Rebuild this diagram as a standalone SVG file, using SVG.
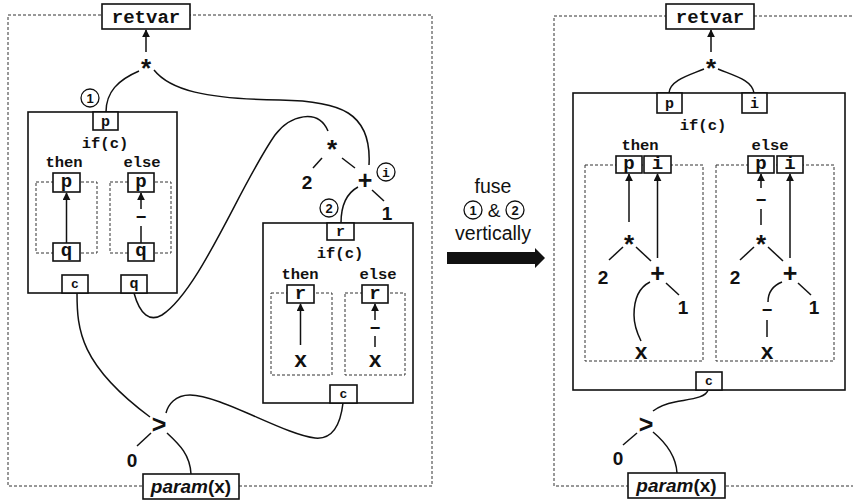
<svg xmlns="http://www.w3.org/2000/svg" width="853" height="500" viewBox="0 0 853 500">
<defs>
<marker id="ah" viewBox="0 0 10 10" refX="9" refY="5" markerWidth="8" markerHeight="8" markerUnits="userSpaceOnUse" orient="auto">
<path d="M0,0 L10,5 L0,10 Z" fill="#111"/>
</marker>
<style>
.dash{fill:none;stroke:#333;stroke-width:1;stroke-dasharray:3,2}
.box{fill:#fff;stroke:#111;stroke-width:1.6}
.cont{fill:none;stroke:#111;stroke-width:1.6}
.ln{fill:none;stroke:#111;stroke-width:1.5}
.ar{fill:none;stroke:#111;stroke-width:1.5;marker-end:url(#ah)}
.circ{fill:#fff;stroke:#111;stroke-width:1.3}
.mono{font-family:"Liberation Mono","DejaVu Sans Mono",monospace;font-weight:bold;fill:#111;text-anchor:middle}
.sans{font-family:"Liberation Sans",Arial,sans-serif;font-weight:bold;fill:#111;text-anchor:middle}
.plain{font-family:"Liberation Sans",Arial,sans-serif;fill:#111;text-anchor:middle}
.rv{font-size:19px}
.pt{font-size:15px}
.ps{font-size:13px}
.pb{font-size:19px}
.kw{font-size:15.5px}
.xx{font-size:22px}
.st{font-size:26px}
.op{font-size:25px}
.num{font-size:19px}
.cl{font-size:13px}
.mi{font-size:18px}
</style>
</defs>

<!-- LEFT DIAGRAM -->
<rect class="dash" x="8" y="15" width="424" height="471"/>

<g id="connectors-left">
<line class="ar" x1="146" y1="52" x2="146" y2="30"/>
<path class="ln" d="M139,71 C118,80 106,92 106,112"/>
<path class="ln" d="M154,70 C170,90 205,99 280,100 C340,101 372,112 369,165"/>
<path class="ln" d="M134,293 C140,315 150,322 162,315 C200,290 240,185 275,135 C290,115 318,108 328,131"/>
<line class="ln" x1="322" y1="158" x2="313" y2="168"/>
<line class="ln" x1="342" y1="158" x2="355" y2="168"/>
<line class="ln" x1="372" y1="190" x2="384" y2="201"/>
<path class="ln" d="M358,187 C347,193 341,205 341,223"/>
<line class="ar" x1="66.5" y1="243" x2="66.5" y2="193"/>
<line class="ln" x1="141" y1="243" x2="141" y2="226"/>
<line class="ar" x1="141" y1="209" x2="141" y2="193"/>
<line class="ar" x1="300.5" y1="345" x2="300.5" y2="304"/>
<line class="ar" x1="375" y1="320" x2="375" y2="304"/>
<line class="ln" x1="375" y1="336" x2="375" y2="347"/>
<path class="ln" d="M343,403 C341,420 335,440 315,438 C285,435 220,395 190,395 C175,395 168,405 166,413"/>
<path class="ln" d="M77,293 C77,330 80,365 150,417"/>
<line class="ln" x1="151" y1="433" x2="137" y2="446"/>
<path class="ln" d="M167,433 C180,445 190,455 191,474"/>
</g>

<g id="retvar-left">
<rect class="box" x="102" y="4" width="88" height="25"/>
<text class="mono rv" x="146" y="23">retvar</text>
</g>
<g id="mul-top-left"><text class="sans st" x="146" y="77">*</text></g>
<g id="lbl-1"><circle class="circ" cx="90" cy="98" r="9"/><text class="sans cl" x="90" y="103">1</text></g>

<g id="if-left">
<rect class="cont" x="28" y="112" width="149" height="181"/>
<rect class="box" x="93" y="112" width="25" height="18"/>
<text class="mono pt" x="105.5" y="126">p</text>
<text class="mono kw" x="105" y="148">if(c)</text>
<text class="mono kw" x="64" y="167">then</text>
<text class="mono kw" x="142" y="167">else</text>
<rect class="dash" x="36" y="182" width="61" height="71"/>
<rect class="dash" x="110" y="182" width="61" height="71"/>
<rect class="box" x="53" y="173" width="27" height="19"/>
<text class="mono pb" x="66.5" y="187">p</text>
<rect class="box" x="128" y="173" width="26" height="19"/>
<text class="mono pb" x="141" y="187">p</text>
<rect class="box" x="53" y="243" width="27" height="18"/>
<text class="mono pb" x="66.5" y="256">q</text>
<rect class="box" x="128" y="243" width="26" height="18"/>
<text class="mono pb" x="141" y="256">q</text>
<text class="sans mi" x="141" y="223">−</text>
<rect class="box" x="62" y="275" width="26" height="18"/>
<text class="mono ps" x="75" y="288">c</text>
<rect class="box" x="121" y="275" width="26" height="18"/>
<text class="mono pt" x="134" y="288">q</text>
</g>

<g id="mul-right-left"><text class="sans st" x="332" y="158">*</text></g>
<g id="two-left"><text class="sans num" x="307" y="189">2</text></g>
<g id="plus-left"><text class="sans op" x="365" y="189">+</text></g>
<g id="lbl-i"><circle class="circ" cx="386" cy="172" r="9"/><text class="mono cl" x="386" y="176.5">i</text></g>
<g id="one-left"><text class="sans num" x="387" y="220">1</text></g>
<g id="lbl-2"><circle class="circ" cx="329" cy="208" r="9"/><text class="sans cl" x="329" y="213">2</text></g>

<g id="if-right-left">
<rect class="cont" x="263" y="223" width="150" height="180"/>
<rect class="box" x="327" y="223" width="27" height="17"/>
<text class="mono pt" x="340.5" y="236">r</text>
<text class="mono kw" x="340" y="258">if(c)</text>
<text class="mono kw" x="300" y="279">then</text>
<text class="mono kw" x="378" y="279">else</text>
<rect class="dash" x="271" y="293" width="61" height="82"/>
<rect class="dash" x="345" y="293" width="60" height="82"/>
<rect class="box" x="287" y="285" width="27" height="18"/>
<text class="mono pb" x="300.5" y="299">r</text>
<rect class="box" x="362" y="285" width="26" height="18"/>
<text class="mono pb" x="375" y="299">r</text>
<text class="mono xx" x="300.5" y="367">x</text>
<text class="sans mi" x="375" y="334">−</text>
<text class="mono xx" x="375" y="367">x</text>
<rect class="box" x="330" y="385" width="27" height="18"/>
<text class="mono ps" x="343.5" y="398">c</text>
</g>

<g id="gt-left"><text class="sans op" x="159" y="433">&gt;</text></g>
<g id="zero-left"><text class="sans num" x="132" y="467">0</text></g>
<g id="param-left">
<rect class="box" x="143" y="474" width="96" height="25"/>
<text class="sans" x="191" y="493" style="font-size:19px"><tspan font-style="italic">param</tspan>(x)</text>
</g>

<!-- MIDDLE -->
<g id="fuse-label">
<text class="plain" x="493" y="193" style="font-size:19.5px">fuse</text>
<circle class="circ" cx="473" cy="210" r="9"/>
<text class="sans" x="473" y="215" style="font-size:13px">1</text>
<text class="plain" x="494" y="217" style="font-size:19px">&amp;</text>
<circle class="circ" cx="515" cy="210" r="9"/>
<text class="sans" x="515" y="215" style="font-size:13px">2</text>
<text class="plain" x="493" y="240" style="font-size:19.5px">vertically</text>
<path d="M447,252 H535 V248 L545,258 L535,268 V264 H447 Z" fill="#111"/>
</g>

<!-- RIGHT DIAGRAM -->
<rect class="dash" x="554" y="16" width="320" height="470"/>

<g id="connectors-right">
<line class="ar" x1="711" y1="52" x2="711" y2="30"/>
<path class="ln" d="M704,69 C690,75 670,80 669,93"/>
<path class="ln" d="M718,69 C735,76 752,80 754,93"/>
<line class="ar" x1="629" y1="222" x2="629" y2="174"/>
<line class="ar" x1="657.5" y1="258" x2="657.5" y2="174"/>
<line class="ln" x1="623" y1="247" x2="609" y2="260"/>
<line class="ln" x1="636" y1="247" x2="651" y2="261"/>
<line class="ln" x1="666" y1="283" x2="679" y2="295"/>
<path class="ln" d="M650,282 C638,288 634,300 634,315 C634,325 638,335 641,341"/>
<line class="ar" x1="761" y1="188" x2="761" y2="174"/>
<line class="ln" x1="761" y1="209" x2="761" y2="225"/>
<line class="ar" x1="790" y1="258" x2="790" y2="174"/>
<line class="ln" x1="754" y1="247" x2="740" y2="260"/>
<line class="ln" x1="768" y1="247" x2="783" y2="261"/>
<line class="ln" x1="798" y1="283" x2="811" y2="295"/>
<path class="ln" d="M782,282 C772,286 768,292 768,302"/>
<line class="ln" x1="767" y1="320" x2="767" y2="337"/>
<path class="ln" d="M708,390 C706,398 690,399 675,402 C665,404 657,408 653,411"/>
<line class="ln" x1="637" y1="433" x2="623" y2="445"/>
<path class="ln" d="M653,432 C665,442 676,455 677,473"/>
</g>

<g id="retvar-right">
<rect class="box" x="666" y="4" width="88" height="25"/>
<text class="mono rv" x="710" y="23">retvar</text>
</g>
<g id="mul-top-right"><text class="sans st" x="711" y="77">*</text></g>

<g id="if-fused">
<rect class="cont" x="573" y="93" width="272" height="297"/>
<rect class="box" x="657" y="93" width="25" height="20"/>
<text class="mono pt" x="669.5" y="108">p</text>
<rect class="box" x="742" y="93" width="25" height="20"/>
<text class="mono pt" x="754.5" y="108">i</text>
<text class="mono kw" x="703" y="130">if(c)</text>
<text class="mono kw" x="640" y="150">then</text>
<text class="mono kw" x="770" y="150">else</text>
<rect class="dash" x="585" y="165" width="118" height="196"/>
<rect class="dash" x="716" y="165" width="118" height="196"/>
<rect class="box" x="616" y="156" width="26" height="17"/>
<text class="mono pb" x="629" y="169">p</text>
<rect class="box" x="644" y="156" width="27" height="17"/>
<text class="mono pb" x="657.5" y="169">i</text>
<rect class="box" x="748" y="156" width="26" height="17"/>
<text class="mono pb" x="761" y="169">p</text>
<rect class="box" x="777" y="156" width="26" height="17"/>
<text class="mono pb" x="790" y="169">i</text>
<rect class="box" x="696" y="372" width="26" height="18"/>
<text class="mono ps" x="709" y="385">c</text>
</g>

<g id="then-mul"><text class="sans st" x="629" y="253">*</text></g>
<g id="then-two"><text class="sans num" x="603" y="284">2</text></g>
<g id="then-plus"><text class="sans op" x="657.5" y="282">+</text></g>
<g id="then-one"><text class="sans num" x="683" y="314">1</text></g>
<g id="then-x"><text class="mono xx" x="641" y="359">x</text></g>

<g id="else-neg1"><text class="sans mi" x="761" y="206">−</text></g>
<g id="else-mul"><text class="sans st" x="761" y="253">*</text></g>
<g id="else-two"><text class="sans num" x="735" y="284">2</text></g>
<g id="else-plus"><text class="sans op" x="790" y="282">+</text></g>
<g id="else-one"><text class="sans num" x="814" y="314">1</text></g>
<g id="else-neg2"><text class="sans mi" x="767" y="316">−</text></g>
<g id="else-x"><text class="mono xx" x="767" y="359">x</text></g>

<g id="gt-right"><text class="sans op" x="646" y="433">&gt;</text></g>
<g id="zero-right"><text class="sans num" x="618" y="465">0</text></g>
<g id="param-right">
<rect class="box" x="628" y="473" width="97" height="25"/>
<text class="sans" x="676.5" y="492" style="font-size:19px"><tspan font-style="italic">param</tspan>(x)</text>
</g>
</svg>
